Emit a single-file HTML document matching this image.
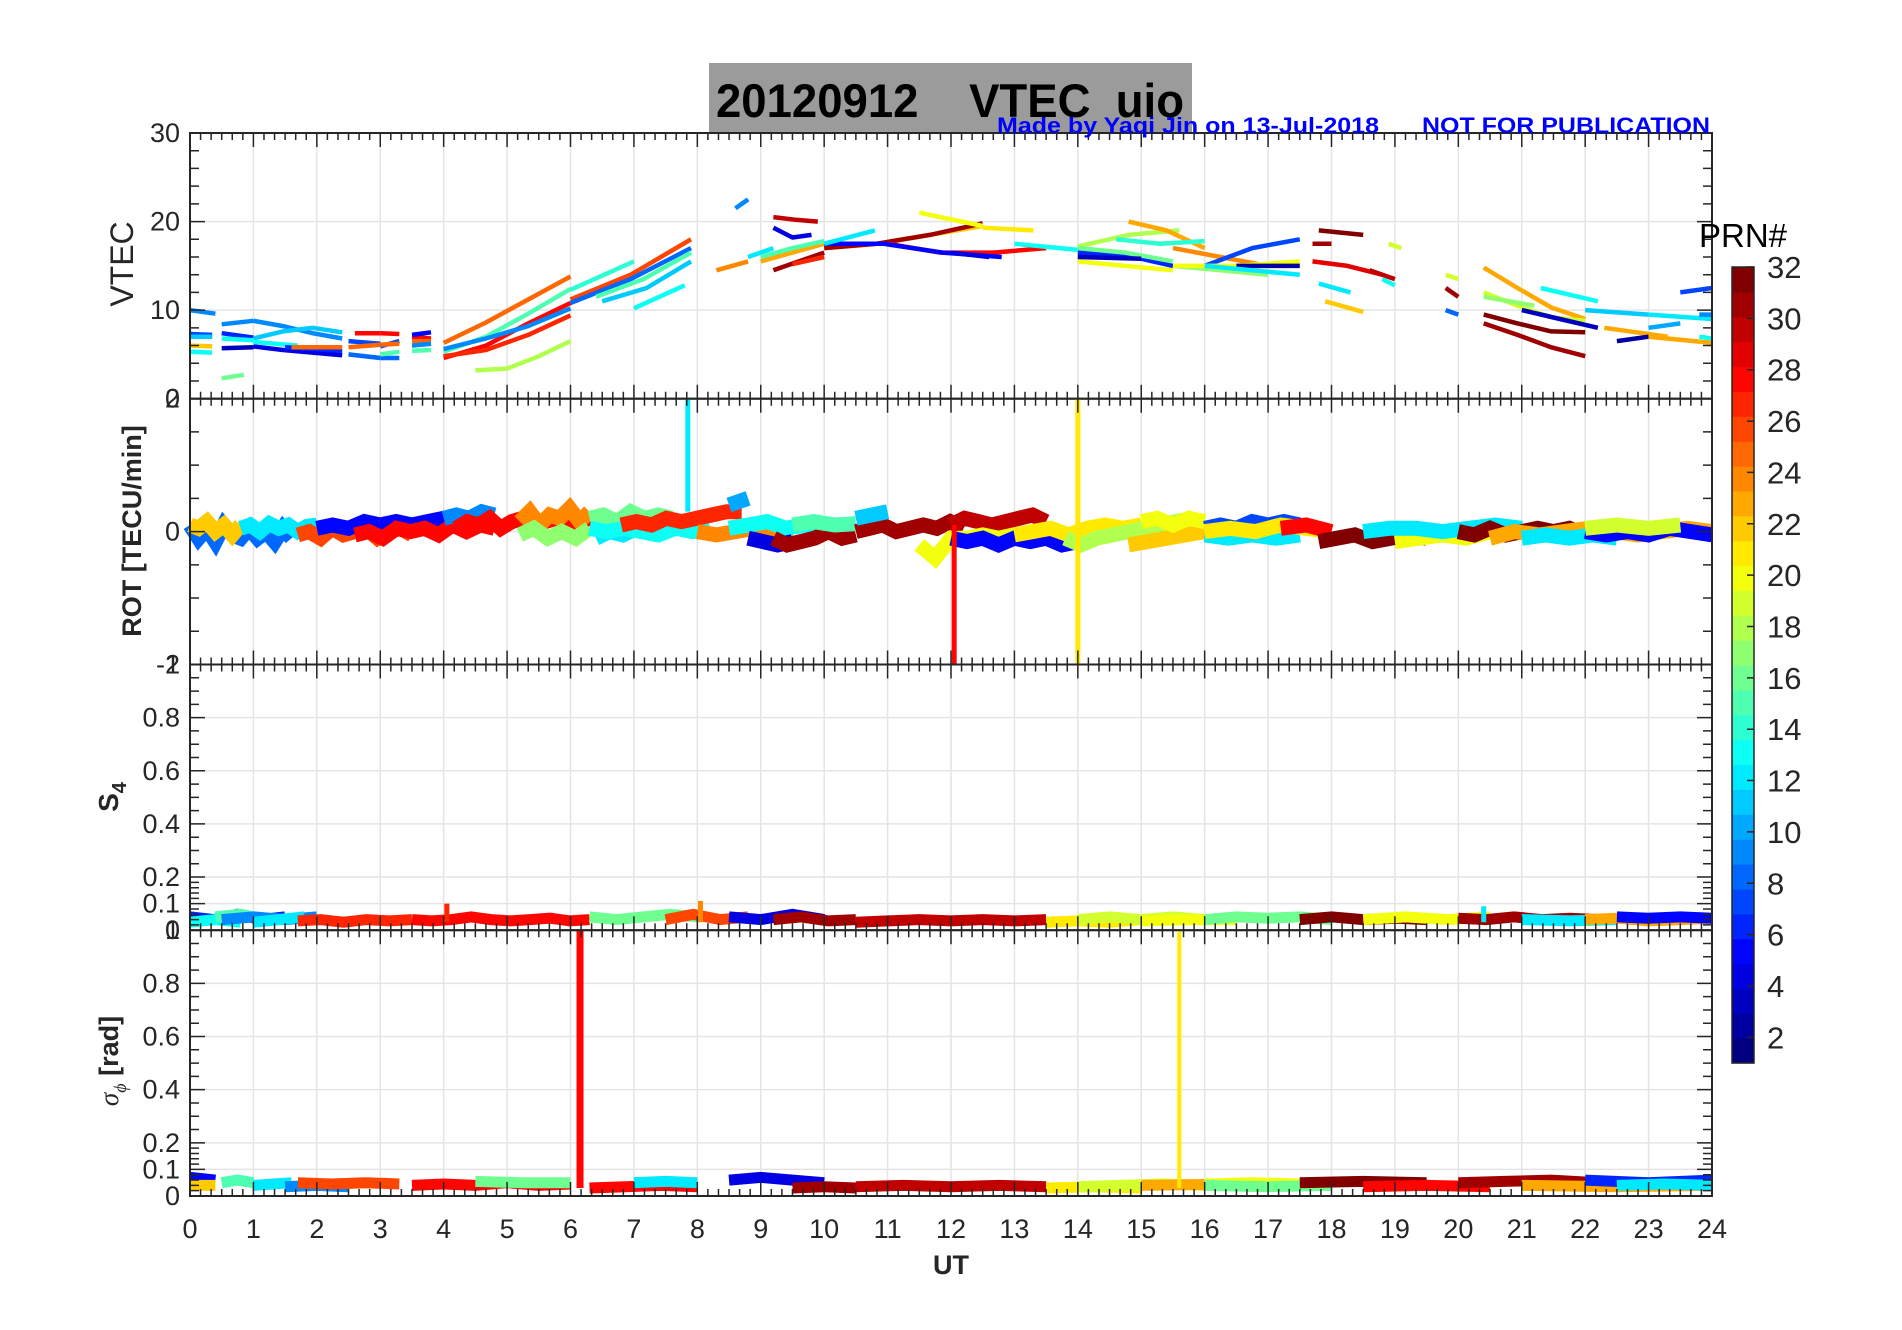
<!DOCTYPE html>
<html><head><meta charset="utf-8"><style>
html,body{margin:0;padding:0;background:#fff;}
svg{display:block;font-family:"Liberation Sans",Arial,sans-serif;}
</style></head><body>
<svg id="fig" width="1902" height="1330" viewBox="0 0 1902 1330" xmlns="http://www.w3.org/2000/svg">
<rect x="0" y="0" width="1902" height="1330" fill="#fff"/>
<rect x="709" y="63" width="483" height="70" fill="#9b9b9b"/>
<text x="716" y="117" font-size="47" font-weight="bold" fill="#000" textLength="468" lengthAdjust="spacingAndGlyphs" xml:space="preserve">20120912    VTEC  uio</text>
<g id="plots"></g>
<text x="997" y="133" font-size="22" font-weight="bold" fill="#0000ff" textLength="382" lengthAdjust="spacingAndGlyphs">Made by Yaqi Jin on 13-Jul-2018</text>
<text x="1422" y="133" font-size="22" font-weight="bold" fill="#0000ff" textLength="288" lengthAdjust="spacingAndGlyphs">NOT FOR PUBLICATION</text>
<text x="1699" y="247" font-size="33" fill="#000">PRN#</text>
<text transform="translate(133,264) rotate(-90)" text-anchor="middle" font-size="32" fill="#262626">VTEC</text>
<text transform="translate(141,531) rotate(-90)" text-anchor="middle" font-size="27" font-weight="bold" fill="#262626">ROT [TECU/min]</text>
<text transform="translate(118,797) rotate(-90)" text-anchor="middle" font-size="28" font-weight="bold" fill="#262626">S<tspan font-size="20" dy="8">4</tspan></text>
<text transform="translate(118,1061) rotate(-90)" text-anchor="middle" font-size="27" font-weight="bold" fill="#262626"><tspan font-family="Liberation Serif" font-style="italic" font-weight="normal">σ</tspan><tspan font-family="Liberation Serif" font-style="italic" font-weight="normal" font-size="18" dy="8">ϕ</tspan><tspan dy="-8"> [rad]</tspan></text>
<text x="951" y="1274" text-anchor="middle" font-size="27" font-weight="bold" fill="#262626">UT</text>
</svg>
<script>
// ---------- data ----------
const xTickLabels = [0,1,2,3,4,5,6,7,8,9,10,11,12,13,14,15,16,17,18,19,20,21,22,23,24];
const vtecTicks = [0,10,20,30];
const rotTicks = [-2,0,2];
const s4Ticks = [0,0.1,0.2,0.4,0.6,0.8,1];
const sigTicks = [0,0.1,0.2,0.4,0.6,0.8,1];
const cbarTicks = [2,4,6,8,10,12,14,16,18,20,22,24,26,28,30,32];

// VTEC arcs: prn, start UT, end UT, evenly spaced values
const vtecPrn = [7,9,11,22,13,9,6,13,3,16,9,11,4,13,6,25,7,8,28,25,28,7,25,8,15,28,5,25,15,9,
 25,15,28,27,9,18,14,26,8,15,11,13,24,9,12,30,4,31,23,15,27,
 22,31,28,5,12,20,21,4,13,18,20,23,6,14,16,3,24,7,17,20,2,12,
 32,29,31,22,12,30,13,19,19,31,8,23,19,17,32,31,13,3,11,23,2,12,10,7,23,13,9];
const vtecStart = [0,0,0,0,0,0.5,0.5,0.5,0.5,0.5,1.0,1.0,1.0,1.0,1.5,1.6,2.5,2.5,2.6,2.5,3.0,3.0,3.0,3.0,3.0,3.5,3.5,3.5,3.5,3.5,
 4.0,4.0,4.0,4.0,4.0,4.5,6.0,6.0,6.0,6.4,6.5,7.0,8.3,8.6,8.8,9.2,9.2,9.2,9.0,9.0,9.5,
 10.0,10.0,11.0,10.0,10.0,11.5,12.5,12.0,13.0,14.0,14.0,14.8,14.0,14.6,14.0,14.0,15.5,16.0,15.5,15.5,16.5,16.0,
 17.8,17.7,17.7,17.9,17.8,18.6,18.8,18.9,19.8,19.8,19.8,20.4,20.4,20.4,20.4,20.4,21.3,21.0,22.0,22.3,22.5,23.0,23.0,23.5,23.0,23.8,23.8];
const vtecEnd = [0.35,0.4,0.35,0.35,0.35,1.0,1.0,1.0,1.0,0.85,2.4,2.4,2.4,1.7,2.4,2.4,3.0,3.0,3.0,3.0,3.3,3.3,3.3,3.3,3.3,3.8,3.8,3.8,3.8,3.8,
 6.0,6.0,6.0,6.0,6.0,6.0,7.0,7.9,7.9,7.9,7.9,7.8,8.8,8.8,9.2,9.9,9.8,10.0,10.0,10.0,10.0,
 12.5,12.5,13.5,12.8,10.8,12.5,13.3,12.6,14.0,15.6,15.5,16.0,15.5,16.0,15.5,15.0,17.0,17.5,17.0,17.5,17.5,17.5,
 18.5,18.8,18.0,18.5,18.3,19.0,19.0,19.1,20.0,20.0,20.0,22.0,22.0,21.2,22.0,22.0,22.2,22.2,23.0,23.3,23.0,24.0,23.5,24.0,24.0,24.0,24.0];
const vtecVals = [[7.3,7.2],[10,9.6],[7,7],[6,5.9],[5.3,5.2],[8.4,8.8],[7.4,6.9],[6.8,6.6],[5.7,5.8],[2.3,2.7],
 [8.8,8.2,7.4,6.8],[6.8,7.6,8.0,7.5],[5.9,5.5,5.2,4.9],[6.4,6.0],[5.8,5.4],[5.8,5.8],[6.5,6.2],[5.0,4.6],[7.4,7.4],[5.8,6.1],
 [7.4,7.3],[5.9,6.5],[6.1,6.2],[4.6,4.6],[5.0,5.3],[7.0,6.8],[7.2,7.5],[6.5,6.5],[5.4,5.5],[6.0,6.2],
 [6.3,8.6,11.2,13.8],[5.3,7.0,9.6,12.4],[4.6,6.0,8.5,10.8],[4.8,5.5,7.2,9.4],[5.6,6.8,8.2,10.2],[3.2,3.4,4.8,6.5],
 [12.3,15.5],[11.2,14,18],[10.8,13.5,17],[11.5,13.5,16.5],[11,12.5,15.5],[10.2,12.8],[14.5,15.5],[21.5,22.5],[16,17],
 [20.5,20.2,20],[19.3,18.2,18.5],[14.5,15.5,16.5],[15.5,16.5,17.5],[16,17,17.8],[15.2,16],
 [17,17.5,18.5,19.5],[17,17.5,18.5,19.8],[17.5,16.5,16.5,17],[17.5,17.5,16.5,16],[17.5,19],[21,19.5],[19.3,19],[16.5,16],[17.5,16.8],
 [17.2,18.5,19],[15.5,15,14.5],[20,19,17],[16.5,16.2,15],[18,17.5,17.8],[17,16.5,15.5],[16,15.8],[17,16,15],[15,17,18],[15,14.5,14],[15,15,15.5],[15,15],[15,14.5,14],
 [19,18.5],[15.5,15,14],[17.5,17.5],[11,9.8],[13,12],[14.5,13.5],[13.5,12.8],[17.5,17],[14,13.5],[12.5,11.5],[10,9.5],
 [14.8,12.5,10.3,9],[12,10.5,9.2,8.8],[11.5,10.5],[9.5,8.5,7.6,7.5],[8.5,7.2,5.8,4.8],[12.5,11],[10,9,8],[10,9.5],[8,7],[6.5,7],[9.5,9],[8,8.5],[12,12.5],[7,6.3],[7,6.8],[9.5,9.5]];

// ROT segments
const rotPrn = [8,22,12,26,5,28,9,28,24,17,16,12,13,27,10,24,13,4,31,15,31,30,11,20,5,21,18,22,20,7,12,21,28,32,20,12,32,23,12,5,19];
const rotStart = [0,0,0.8,1.7,2,2.6,4,4.2,5.2,5.2,6.3,6.4,6.3,6.8,8.5,8,8.5,8.8,9.2,9.5,10.5,12,10.5,11.5,12,13,13.8,14.8,15,16,16,16,17.2,17.8,19,18.5,20,20.5,21,22,22];
const rotEnd = [1.6,0.8,2,3.5,4.5,4.8,4.8,6.3,6.3,6.3,7.6,7.9,8.2,8.7,8.8,9.5,10,9.5,10.5,10.5,12.2,13.5,11,13,14,15,15.8,16,16,17.5,17.5,18,18,19.5,20.5,21,22,24,22.5,24,23.5];
const rotVals = [
 [0.1,-0.1,0.05,-0.15,0.1,-0.05,-0.1,0.05,-0.1,0,-0.15,0.05,-0.1],
 [0.1,0.05,0.15,0,0.1,-0.05,0.1],
 [0.05,0.1,0,0.12,0.05,0.1,0,0.08,0.1],
 [-0.05,0,-0.1,0.05,-0.05,0,0.05,-0.1,0,0.05,-0.05],
 [0.05,0.1,0.05,0.15,0.1,0.15,0.1,0.15,0.2,0.1,0.15],
 [-0.05,0,-0.1,0.05,0,0.05,-0.05,0.1,0,0.1,0.05],
 [0.2,0.25,0.2,0.3,0.25],
 [0.05,0.15,0.1,0.2,0.05,0.15,0.2,0.1,0.15,0.2,0.1,0.15,0.2],
 [0.15,0.3,0.1,0.25,0.2,0.35,0.15,0.3],
 [-0.05,0.05,-0.1,0,-0.1,0.05],
 [0.2,0.25,0.15,0.3,0.2,0.25,0.2],
 [-0.1,0,-0.05,0.05,0,0.05,0.1,0.05],
 [0.05,0,0.05,0,-0.05,0.05,0,0.05],
 [0.1,0.15,0.1,0.2,0.15,0.2,0.25,0.3,0.3],
 [0.4,0.5],
 [0,-0.05,0,0.05,-0.05,0],
 [0.05,0.1,0.15,0.05,0.1,0.1],
 [-0.1,-0.15,-0.2,-0.15],
 [-0.1,-0.2,-0.15,-0.1,0,-0.1,-0.05],
 [0.1,0.15,0.1,0.12],
 [0,0.05,0.1,0,0.05,0.1,0.05,0.15,0.05],
 [0.1,0.2,0.15,0.1,0.15,0.2,0.25,0.15],
 [0.2,0.3],
 [-0.2,-0.4,-0.1,-0.1,-0.05,-0.1,-0.05],
 [-0.1,-0.15,-0.1,-0.2,-0.1,-0.15,-0.1,-0.2,-0.15],
 [-0.05,0,0.05,-0.05,0.05,0.1,0.05,0.1],
 [-0.1,-0.2,-0.1,-0.05,0,0.05,0.1,0.15,0.2],
 [-0.2,-0.15,-0.1,-0.05,0],
 [0.15,0.2,0.1,0.2,0.15],
 [0.05,0.1,0.05,0.15,0.1,0.15,0.1],
 [-0.05,-0.1,-0.05,-0.1,-0.05],
 [0,0.05,0,0.1,0.05,0],
 [0.05,0.1,0],
 [-0.15,-0.1,-0.05,-0.15,-0.1,-0.05,-0.1],
 [-0.15,-0.1,-0.05,-0.1,0],
 [0,0.05,0.05,0,0.05,0.1,0.05],
 [0,-0.05,0.05,-0.05,0,0.05,0,0.05,-0.05],
 [-0.1,0,-0.05,0,0.05,0,-0.05,0,0.05,0],
 [-0.1,-0.05,-0.1,-0.05,-0.1],
 [0,-0.05,0,-0.05,0.05,0,-0.05],
 [0.05,0.1,0.05,0.1]];
const rotSpikeT = [7.85,12.05,14.0];
const rotSpikePrn = [12,28,21];
const rotSpikeLo = [0.3,-2,-2];
const rotSpikeHi = [2,0.1,2];

// S4 segments
const s4Prn = [6,13,15,9,12,27,28,16,26,4,31,30,21,19,20,16,32,20,31,12,23,5];
const s4Start = [0,0,0.4,0.5,1.0,1.7,3.5,6.3,7.5,8.5,9.2,10.5,13.5,14,15,16,17.5,18.5,20,21,22,22.5];
const s4End = [1.5,0.8,1.2,2,1.8,3.5,6.3,8,8.8,10,10.5,13.5,15,16,16.5,18,19.5,20.5,22.2,22.5,24,24];
const s4Vals = [
 [0.05,0.04,0.06,0.04,0.05],[0.03,0.04,0.03],[0.05,0.06,0.04],[0.04,0.05,0.04,0.05],[0.03,0.04,0.05],
 [0.035,0.04,0.03,0.04,0.035,0.04],[0.04,0.035,0.04,0.05,0.04,0.035,0.04,0.045,0.035,0.04],
 [0.05,0.04,0.05,0.06,0.05],[0.04,0.06,0.04,0.05],[0.05,0.04,0.06,0.04],[0.04,0.05,0.035,0.04],
 [0.03,0.035,0.04,0.035,0.04,0.035,0.04],[0.03,0.035,0.03,0.04],[0.04,0.05,0.04,0.05,0.04],[0.035,0.04,0.04],
 [0.04,0.05,0.045,0.05,0.04],[0.04,0.05,0.04,0.045,0.04],[0.04,0.05,0.04,0.05],[0.045,0.04,0.05,0.04,0.045,0.04],
 [0.04,0.035,0.04],[0.04,0.045,0.035,0.04,0.045],[0.05,0.045,0.05,0.045]];
const s4SpikeT = [4.05,8.05,20.4];
const s4SpikePrn = [27,24,12];
const s4SpikeHi = [0.1,0.11,0.09];

// sigma-phi segments
const sigPrn = [5,22,15,12,9,26,28,16,28,12,4,31,30,21,19,23,20,16,32,28,31,23,6,12];
const sigStart = [0,0,0.5,1,1.5,1.7,3.5,4.5,6.3,7.0,8.5,9.5,10.5,13.5,14,15,16,16,17.5,18.5,20,21,22,22.5];
const sigEnd = [0.4,0.4,1,1.6,2.5,3.3,6.0,6.0,8.0,8,10,10.5,13.5,15,16,16.5,17.5,18,19.5,20.5,22.2,24,24,24];
const sigVals = [
 [0.07,0.06],[0.04,0.04],[0.05,0.06,0.05],[0.04,0.05],[0.035,0.04,0.035],[0.05,0.045,0.05,0.045],
 [0.04,0.045,0.04,0.05,0.04,0.045],[0.055,0.05,0.05],[0.03,0.035,0.04,0.035],[0.05,0.055,0.05],
 [0.06,0.07,0.06,0.05],[0.03,0.035,0.03],[0.035,0.04,0.035,0.04,0.035],[0.03,0.035,0.03],
 [0.035,0.04,0.045,0.04],[0.04,0.045],[0.045,0.05,0.045],[0.04,0.035,0.04],[0.05,0.055,0.05],
 [0.035,0.04,0.035],[0.05,0.055,0.06,0.05],[0.04,0.035,0.04],[0.06,0.05,0.06],[0.04,0.045,0.04]];
const sigSpikeT = [6.15,15.6];
const sigSpikePrn = [28,21];
const sigSpikeHi = [1,1];

// ---------- drawing ----------
const NS = 'http://www.w3.org/2000/svg';
const plots = document.getElementById('plots');
const X0 = 190, X1 = 1712;
const xs = t => X0 + t * (X1 - X0) / 24;
const panels = [
  {name:'vtec', top:133, bot:398.7, lo:0, hi:30},
  {name:'rot', top:398.7, bot:664.5, lo:-2, hi:2},
  {name:'s4', top:664.5, bot:930.2, lo:0, hi:1},
  {name:'sigma', top:930.2, bot:1196, lo:0, hi:1}
];
function ys(p, v) { return p.bot - (v - p.lo) / (p.hi - p.lo) * (p.bot - p.top); }
function jet(i) {
  const v = (i - 1) / 31;
  const c = x => Math.round(255 * Math.max(0, Math.min(1, x)));
  return 'rgb(' + c(1.5 - Math.abs(4*v - 3)) + ',' + c(1.5 - Math.abs(4*v - 2)) + ',' + c(1.5 - Math.abs(4*v - 1)) + ')';
}
function mk(tag, attrs, parent) {
  const e = document.createElementNS(NS, tag);
  for (const k in attrs) e.setAttribute(k, attrs[k]);
  (parent || plots).appendChild(e);
  return e;
}
function seriesPath(t0, t1, vals, p) {
  const n = vals.length;
  return vals.map((v, i) => {
    const t = n === 1 ? t0 : t0 + (t1 - t0) * i / (n - 1);
    return (i ? 'L' : 'M') + xs(t).toFixed(1) + ',' + ys(p, v).toFixed(1);
  }).join('');
}
function fmt(v) { return String(v); }

panels.forEach((p, pi) => {
  const g = mk('g', {});
  
  
  xTickLabels.forEach(t => {
    if (t === 0 || t === 24) return;
    const l = mk('line', {x1: xs(t), x2: xs(t), y1: p.top, y2: p.bot, stroke: '#e4e4e4', 'stroke-width': 1.5}, g);
    
    
  });
  const yt = pi === 0 ? vtecTicks : pi === 1 ? rotTicks : pi === 2 ? s4Ticks : sigTicks;
  yt.forEach(v => {
    if (v === p.lo || v === p.hi) return;
    const l = mk('line', {x1: X0, x2: X1, y1: ys(p, v), y2: ys(p, v), stroke: '#e4e4e4', 'stroke-width': 1.5}, g);
    
    
  });
  p.g = g;
});

// VTEC
vtecPrn.forEach((prn, i) => {
  const e = mk('path', {d: seriesPath(vtecStart[i], vtecEnd[i], vtecVals[i], panels[0]), fill: 'none', stroke: jet(prn), 'stroke-width': 4.5, 'stroke-linejoin': 'round'}, panels[0].g);
  
  
});
// ROT
rotPrn.forEach((prn, i) => {
  const e = mk('path', {d: seriesPath(rotStart[i], rotEnd[i], rotVals[i], panels[1]), fill: 'none', stroke: jet(prn), 'stroke-width': 15, 'stroke-linejoin': 'miter'}, panels[1].g);
  
  
});
rotSpikeT.forEach((t, i) => {
  const e = mk('line', {x1: xs(t), x2: xs(t), y1: ys(panels[1], rotSpikeLo[i]), y2: ys(panels[1], rotSpikeHi[i]), stroke: jet(rotSpikePrn[i]), 'stroke-width': 5}, panels[1].g);
  
  
});
// S4
s4Prn.forEach((prn, i) => {
  const e = mk('path', {d: seriesPath(s4Start[i], s4End[i], s4Vals[i], panels[2]), fill: 'none', stroke: jet(prn), 'stroke-width': 11}, panels[2].g);
  
  
});
s4SpikeT.forEach((t, i) => {
  const e = mk('line', {x1: xs(t), x2: xs(t), y1: ys(panels[2], 0.03), y2: ys(panels[2], s4SpikeHi[i]), stroke: jet(s4SpikePrn[i]), 'stroke-width': 5}, panels[2].g);
  
  
});
// sigma
sigPrn.forEach((prn, i) => {
  const e = mk('path', {d: seriesPath(sigStart[i], sigEnd[i], sigVals[i], panels[3]), fill: 'none', stroke: jet(prn), 'stroke-width': 11}, panels[3].g);
  
  
});
sigSpikeT.forEach((t, i) => {
  const e = mk('line', {x1: xs(t), x2: xs(t), y1: ys(panels[3], 0.03), y2: ys(panels[3], sigSpikeHi[i]), stroke: jet(sigSpikePrn[i]), 'stroke-width': i === 0 ? 7 : 4}, panels[3].g);
  
  
});

// axes, ticks, labels
panels.forEach((p, pi) => {
  const g = p.g;
  let d = '';
  for (let k = 0; k <= 144; k++) {
    const t = k / 6, x = xs(t), L = (k % 6 === 0) ? 14 : 7;
    d += 'M' + x + ',' + p.bot + 'v' + (-L) + 'M' + x + ',' + p.top + 'v' + L;
  }
  let minors = [];
  if (pi === 0) { for (let v = 0; v <= 30; v += 2) minors.push(v); }
  else if (pi === 1) { for (let v = -2; v <= 2; v += 0.5) minors.push(v); }
  else { minors = [0.02,0.04,0.06,0.08,0.12,0.14,0.16,0.18,0.25,0.3,0.35,0.45,0.5,0.55,0.65,0.7,0.75,0.85,0.9,0.95]; }
  const yt = pi === 0 ? vtecTicks : pi === 1 ? rotTicks : pi === 2 ? s4Ticks : sigTicks;
  minors.forEach(v => { const y = ys(p, v); d += 'M' + X0 + ',' + y + 'h9M' + X1 + ',' + y + 'h-9'; });
  yt.forEach(v => { const y = ys(p, v); d += 'M' + X0 + ',' + y + 'h15M' + X1 + ',' + y + 'h-15'; });
  const tk = mk('path', {d: d, stroke: '#262626', 'stroke-width': 1.5, fill: 'none'}, g);
  
  
  const box = mk('rect', {x: X0, y: p.top, width: X1 - X0, height: p.bot - p.top, fill: 'none', stroke: '#262626', 'stroke-width': 2}, g);
  
  
  yt.forEach(v => {
    const tx = mk('text', {x: 180, y: ys(p, v) + 9, 'text-anchor': 'end', 'font-size': 27, fill: '#262626'}, g);
    tx.textContent = fmt(v);
    
    
  });
});
xTickLabels.forEach(t => {
  const tx = mk('text', {x: xs(t), y: 1238, 'text-anchor': 'middle', 'font-size': 27, fill: '#262626'});
  tx.textContent = String(t);
  
  
});

// colorbar
const CB = {x: 1732, w: 22, top: 267, bot: 1063, lo: 1, hi: 32};
const cbg = mk('g', {});


const cbY = v => CB.bot - (v - CB.lo) / (CB.hi - CB.lo) * (CB.bot - CB.top);
for (let i = 1; i <= 32; i++) {
  const y0 = CB.bot - (i - 1) * (CB.bot - CB.top) / 32, y1 = CB.bot - i * (CB.bot - CB.top) / 32;
  const r = mk('rect', {x: CB.x, y: y1, width: CB.w, height: y0 - y1 + 0.6, fill: jet(i)}, cbg);
  
  
}
let cd = '';
cbarTicks.forEach(v => { cd += 'M' + (CB.x + CB.w) + ',' + cbY(v) + 'h-7'; });
const cbt = mk('path', {d: cd, stroke: '#262626', 'stroke-width': 1.5}, cbg);


const cbb = mk('rect', {x: CB.x, y: CB.top, width: CB.w, height: CB.bot - CB.top, fill: 'none', stroke: '#262626', 'stroke-width': 1.5}, cbg);


cbarTicks.forEach(v => {
  const tx = mk('text', {x: 1767, y: cbY(v) + 11, 'font-size': 31, fill: '#262626'}, cbg);
  tx.textContent = String(v);
  
  
});
</script>
</body></html>
